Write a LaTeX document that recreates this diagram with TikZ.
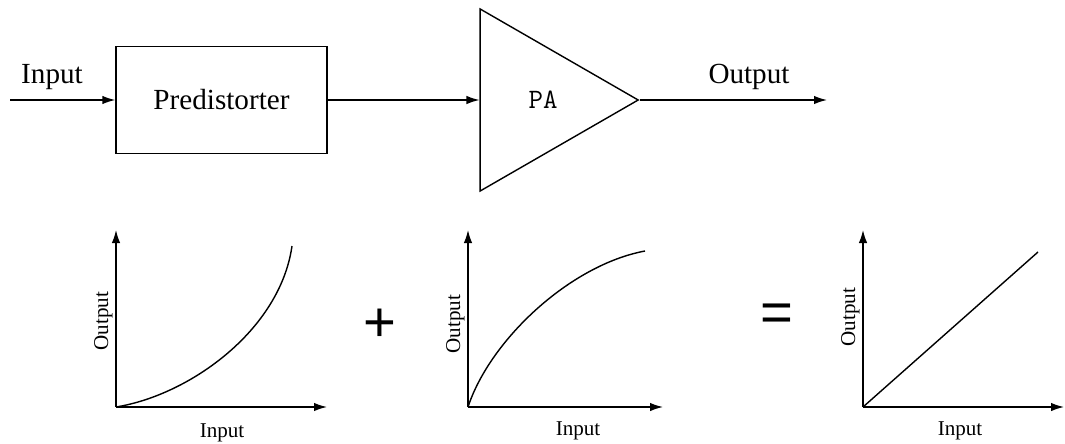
\documentclass[tikz,border=0pt]{standalone}
\usepackage{fontspec}
\setmainfont{Liberation Serif}
\newfontfamily\symfont{Liberation Sans}
\usepackage{tikz}
\usetikzlibrary{shapes.geometric, arrows.meta, positioning}

\begin{document}
\begin{tikzpicture}[
        x=0.02cm, y=-0.02cm,
        line width=0.8pt,
        block/.style={rectangle, draw=black, minimum width=4.22cm, minimum height=2.14cm, font=\fontsize{16.6}{20}\selectfont},
        amp/.style={isosceles triangle, isosceles triangle stretches, draw=black, inner sep=0pt, minimum width=3.64cm, minimum height=3.16cm, anchor=apex},
        amptext/.style={font=\ttfamily\fontsize{16}{18}\selectfont},
        arrow/.style={-{Latex[length=0.26cm,width=0.17cm]}},
        toplabel/.style={anchor=base, font=\fontsize{16.6}{20}\selectfont},
        axlabel/.style={anchor=base, font=\fontsize{12}{14}\selectfont},
        ylabel/.style={axlabel, rotate=90},
        sign/.style={font=\symfont\fontsize{32}{36}\selectfont}
    ]
    \useasboundingbox (0,0) rectangle (1065,443);

    % Signal chain
    \coordinate (in) at (10,100);
    \node[block] (pre) at (221.5,100) {Predistorter};
    \node[amp] (pa) at (640,100) {};
    \node[amptext] (patxt) at (543,100) {PA};
    \coordinate (out) at (827,100);

    \draw[arrow] (in) -- (pre.west);
    \draw[arrow] (pre.east) -- (pa);
    \draw[arrow] (pa.apex) -- (out);

    \node[toplabel] (inlbl) at (52,83) {Input};
    \node[toplabel] (outlbl) at (749,83) {Output};

    % Axes of the three curves
    \foreach \n/\ox/\xe in {1/116/327, 2/468/663, 3/863/1064} {
        \coordinate (o\n) at (\ox,407);
        \coordinate (ytip\n) at (\ox,230);
        \coordinate (xtip\n) at (\xe,407);
        \draw[arrow] (o\n) -- (ytip\n);
        \draw[arrow] (o\n) -- (xtip\n);
    }

    % Curves
    \coordinate (end1) at (292,246);
    \coordinate (end2) at (645,251);
    \coordinate (end3) at (1038,252);
    \draw (o1) .. controls (190,395) and (280,330) .. (end1);
    \draw (o2) .. controls (490,340) and (570,265) .. (end2);
    \draw (o3) -- (end3);

    % Axis labels
    \node[axlabel] (xl1) at (222,437) {Input};
    \node[axlabel] (xl2) at (578,435) {Input};
    \node[axlabel] (xl3) at (960,435) {Input};
    \node[ylabel] (yl1) at (108,321) {Output};
    \node[ylabel] (yl2) at (460,324) {Output};
    \node[ylabel] (yl3) at (855,317) {Output};

    % Signs
    \node[sign] (plus) at (380,325) {+};
    \node[sign] (eq) at (777,318) {=};

\end{tikzpicture}
\end{document}
